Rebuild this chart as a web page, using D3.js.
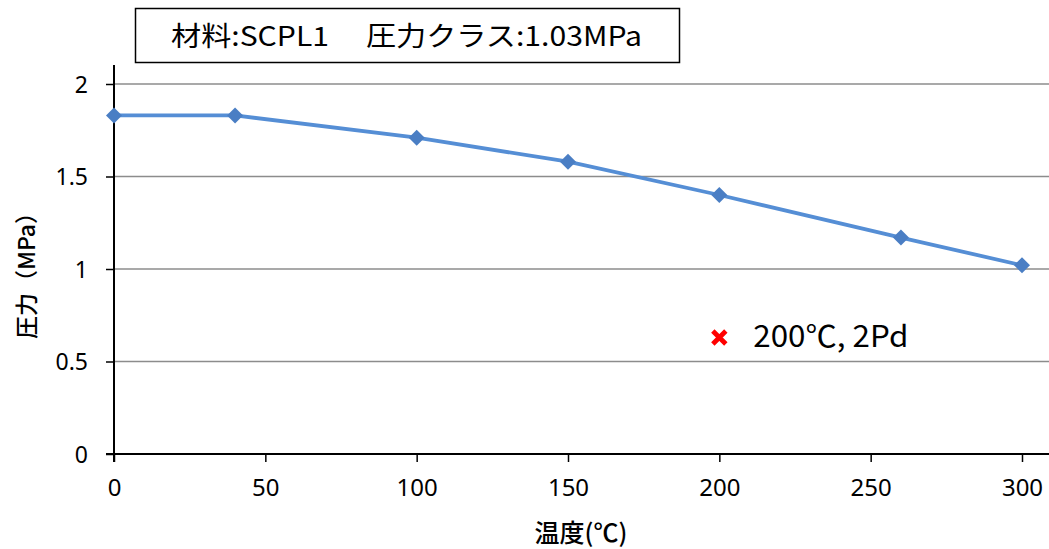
<!DOCTYPE html>
<html><head><meta charset="utf-8">
<script src="https://cdn.jsdelivr.net/npm/d3@7"></script>
<style>body{margin:0;background:#fff}svg{display:block}</style>
</head><body>
<script>
const temps = [0, 40, 100, 150, 200, 260, 300];
const pressures = [1.83, 1.83, 1.71, 1.58, 1.40, 1.17, 1.02];
const pointX = [200];
const pointY = [0.63];
const pointLabel = "200℃, 2Pd";
const xTicks = [0, 50, 100, 150, 200, 250, 300];
const yTicks = [0, 0.5, 1, 1.5, 2];
const title = "材料:SCPL1\u3000 圧力クラス:1.03MPa";
const xTitle = "温度(℃)";
const yTitle = "圧力（MPa）";

const W = 1049, H = 549;
const svg = d3.select("body").append("svg").attr("width", W).attr("height", H);
const x = d3.scaleLinear().domain([0, 300]).range([114, 1022]);
const y = d3.scaleLinear().domain([0, 2]).range([454, 84]);
const font = "'Noto Sans', 'Liberation Sans', sans-serif";
const jfont = "'Noto Sans CJK JP', sans-serif";

// gridlines
svg.append("g").selectAll("line").data(yTicks.filter(d => d > 0)).join("line")
  .attr("x1", x(0)).attr("x2", W).attr("y1", d => y(d)).attr("y2", d => y(d))
  .attr("stroke", "#8c8c8c").attr("stroke-width", 1.5);

// y axis
const ya = svg.append("g").attr("transform", `translate(${x(0)},0)`)
  .call(d3.axisLeft(y).tickValues(yTicks).tickSize(8).tickPadding(18).tickFormat(d => String(d)));
ya.select(".domain").remove();
ya.selectAll(".tick line").attr("stroke", "#000").attr("stroke-width", 1.5);
ya.selectAll("text").attr("font-family", font).attr("font-size", 23).attr("fill", "#000").attr("dy", "0.36em");
svg.append("line").attr("x1", x(0)).attr("x2", x(0)).attr("y1", 65).attr("y2", 462)
  .attr("stroke", "#000").attr("stroke-width", 2);

// x axis
const xa = svg.append("g").attr("transform", `translate(0,${y(0)})`)
  .call(d3.axisBottom(x).tickValues(xTicks).tickSize(8).tickPadding(20).tickFormat(d => String(d)));
xa.select(".domain").remove();
xa.selectAll(".tick line").attr("stroke", "#000").attr("stroke-width", 1.5);
xa.selectAll("text").attr("font-family", font).attr("font-size", 24).attr("fill", "#000").attr("dy", "0.6em");
svg.append("line").attr("x1", 106).attr("x2", W).attr("y1", y(0)).attr("y2", y(0))
  .attr("stroke", "#000").attr("stroke-width", 2);

// series line
const pts = temps.map((t, i) => [t, pressures[i]]);
svg.append("path").datum(pts)
  .attr("d", d3.line().x(d => x(d[0])).y(d => y(d[1])))
  .attr("fill", "none").attr("stroke", "#558ed5").attr("stroke-width", 3.8);
svg.append("g").selectAll("path").data(pts).join("path")
  .attr("transform", d => `translate(${x(d[0])},${y(d[1])})`)
  .attr("d", "M0,-8L8,0L0,8L-8,0Z").attr("fill", "#4a7ec4");

// red x marker
const px = pointX.map((v, i) => [v, pointY[i]]);
svg.append("g").selectAll("path").data(px).join("path")
  .attr("transform", d => `translate(${x(d[0])},${y(d[1])})`)
  .attr("d", "M-6.5,-6.5L6.5,6.5M6.5,-6.5L-6.5,6.5")
  .attr("stroke", "#ff0000").attr("stroke-width", 4.8).attr("fill", "none");
svg.append("g").selectAll("text").data(px).join("text")
  .attr("x", d => x(d[0]) + 34).attr("y", d => y(d[1]) + 10)
  .attr("font-family", jfont).attr("font-size", 30).attr("fill", "#000")
  .attr("textLength", 155).attr("lengthAdjust", "spacingAndGlyphs")
  .text(pointLabel);

// title box
svg.append("rect").attr("x", 135.5).attr("y", 8.5).attr("width", 544).attr("height", 54)
  .attr("fill", "#fff").attr("stroke", "#000").attr("stroke-width", 1.5);
svg.append("text").attr("x", 171).attr("y", 46)
  .attr("font-family", jfont).attr("font-size", 27).attr("fill", "#000")
  .attr("textLength", 471).attr("lengthAdjust", "spacingAndGlyphs").text(title);

// axis titles
svg.append("text").attr("x", 581).attr("y", 542).attr("text-anchor", "middle")
  .attr("font-family", jfont).attr("font-size", 25).attr("font-weight", 500).attr("fill", "#000").text(xTitle);
svg.append("text").attr("transform", "translate(35,270) rotate(-90)").attr("text-anchor", "middle")
  .attr("font-family", jfont).attr("font-size", 23).attr("font-weight", 500).attr("fill", "#000").text(yTitle);
</script>
</body></html>
